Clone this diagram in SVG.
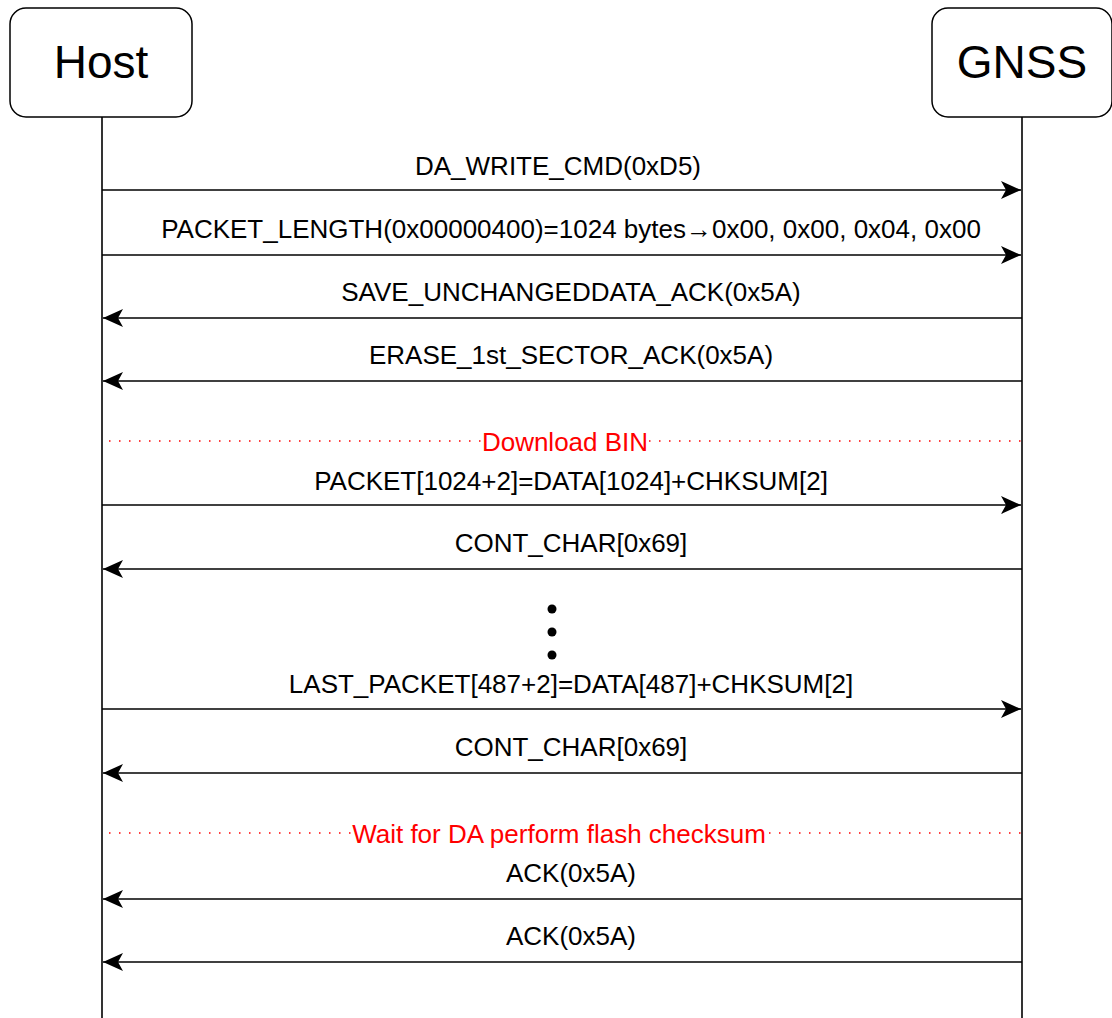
<svg xmlns="http://www.w3.org/2000/svg" width="1112" height="1018" viewBox="0 0 1112 1018">
<style>
.box{fill:#fff;stroke:#000;stroke-width:1.5}
.life{stroke:#000;stroke-width:1.6;fill:none}
.msg{stroke:#000;stroke-width:1.6;fill:none}
.dot{stroke:#f00;stroke-width:1.5;fill:none;stroke-dasharray:1.5 8.5}
.t{font-family:"Liberation Sans",Arial,sans-serif;font-size:26px;fill:#000;text-anchor:middle}
.r{fill:#f00}
.bg{fill:#fff}
.big{font-family:"Liberation Sans",Arial,sans-serif;font-size:46px;fill:#000;text-anchor:middle}
</style>
<defs>
<marker id="ah" viewBox="0 0 20 18" refX="20" refY="9" markerWidth="20" markerHeight="18" markerUnits="userSpaceOnUse" orient="auto">
<path d="M0,0 L20,9 L0,18 L5,9 Z" fill="#000"/>
</marker>
</defs>
<g id="lifelines">
<line class="life" x1="102" y1="117" x2="102" y2="1018"/>
<line class="life" x1="1022" y1="117" x2="1022" y2="1018"/>
</g>
<g id="host">
<rect class="box" x="10" y="8" width="182" height="109" rx="16" ry="16"/>
<text class="big" x="101" y="78">Host</text>
</g>
<g id="gnss">
<rect class="box" x="932" y="8" width="180" height="109" rx="16" ry="16"/>
<text class="big" x="1022" y="78">GNSS</text>
</g>
<g id="connectors">
<line class="msg" x1="102" y1="190" x2="1021" y2="190" marker-end="url(#ah)"/>
<line class="msg" x1="102" y1="255" x2="1021" y2="255" marker-end="url(#ah)"/>
<line class="msg" x1="1022" y1="318" x2="103" y2="318" marker-end="url(#ah)"/>
<line class="msg" x1="1022" y1="381" x2="103" y2="381" marker-end="url(#ah)"/>
<line class="msg" x1="102" y1="505" x2="1021" y2="505" marker-end="url(#ah)"/>
<line class="msg" x1="1022" y1="569" x2="103" y2="569" marker-end="url(#ah)"/>
<line class="msg" x1="102" y1="709" x2="1021" y2="709" marker-end="url(#ah)"/>
<line class="msg" x1="1022" y1="773" x2="103" y2="773" marker-end="url(#ah)"/>
<line class="msg" x1="1022" y1="899" x2="103" y2="899" marker-end="url(#ah)"/>
<line class="msg" x1="1022" y1="962" x2="103" y2="962" marker-end="url(#ah)"/>
<line class="dot" x1="109" y1="441" x2="1021" y2="441"/>
<line class="dot" x1="109" y1="833" x2="1021" y2="833"/>
</g>
<g id="labels">
<text class="t" x="558" y="175">DA_WRITE_CMD(0xD5)</text>
<text class="t" x="571" y="238">PACKET_LENGTH(0x00000400)=1024 bytes→0x00, 0x00, 0x04, 0x00</text>
<text class="t" x="571" y="301">SAVE_UNCHANGEDDATA_ACK(0x5A)</text>
<text class="t" x="571" y="364">ERASE_1st_SECTOR_ACK(0x5A)</text>
<rect class="bg" x="483" y="428" width="164" height="26"/>
<text class="t r" x="565" y="451">Download BIN</text>
<text class="t" x="571" y="490">PACKET[1024+2]=DATA[1024]+CHKSUM[2]</text>
<text class="t" x="571" y="552">CONT_CHAR[0x69]</text>
<text class="t" x="571" y="693">LAST_PACKET[487+2]=DATA[487]+CHKSUM[2]</text>
<text class="t" x="571" y="756">CONT_CHAR[0x69]</text>
<rect class="bg" x="352" y="820" width="414" height="26"/>
<text class="t r" x="559" y="843">Wait for DA perform flash checksum</text>
<text class="t" x="571" y="882">ACK(0x5A)</text>
<text class="t" x="571" y="945">ACK(0x5A)</text>
</g>
<g id="ellipsis">
<circle cx="552" cy="609" r="4.5"/>
<circle cx="552" cy="632" r="4.5"/>
<circle cx="552" cy="655" r="4.5"/>
</g>
</svg>
